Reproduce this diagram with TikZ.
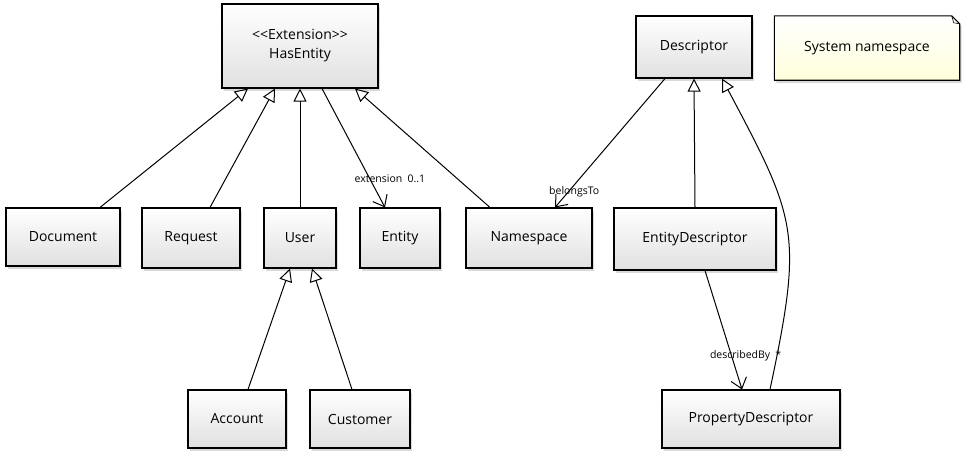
\documentclass[tikz,border=0pt]{standalone}
\usepackage{fontspec}
\setmainfont{Open Sans}
\usetikzlibrary{arrows.meta, backgrounds, positioning, shadows}

\tikzset{%
  cls/.style={draw, line width=1.1pt, rectangle, top color=white, bottom color=gray!24,
    drop shadow={shadow xshift=2pt, shadow yshift=-3pt, opacity=0.3},
    font=\fontsize{14}{19}\selectfont, align=center},
  isa/.style={line width=1pt, -{Triangle[open, length=13pt, width=13pt]}},
  assoc/.style={line width=1pt, -{Straight Barb[length=10pt, width=16pt]}},
  lbl/.style={font=\fontsize{10.5}{12}\selectfont, inner sep=1pt}
}

\begin{document}
\begin{tikzpicture}[x=1pt, y=1pt]
  \useasboundingbox (0,0) rectangle (964,-456);
  % classes
  \node[cls, minimum width=156pt, minimum height=84pt] (hasentity) at (300,-46)
    {<{}<Extension>{}>\\HasEntity};
  \node[cls, minimum width=116pt, minimum height=62pt] (descriptor) at (694,-47) {Descriptor};
  \node[font=\fontsize{14}{19}\selectfont, minimum width=185pt, minimum height=64pt] (note)
    at (867,-48) {System namespace};
  \node[cls, minimum width=114pt, minimum height=58pt] (document) at (63,-237) {Document};
  \node[cls, minimum width=98pt, minimum height=60pt] (request) at (191,-238) {Request};
  \node[cls, minimum width=72pt, minimum height=60pt] (user) at (300,-238) {User};
  \node[cls, minimum width=80pt, minimum height=60pt] (entity) at (400,-238) {Entity};
  \node[cls, minimum width=126pt, minimum height=60pt] (namespace) at (529,-238) {Namespace};
  \node[cls, minimum width=162pt, minimum height=62pt] (entitydesc) at (695,-239) {EntityDescriptor};
  \node[cls, minimum width=98pt, minimum height=58pt] (account) at (237,-419) {Account};
  \node[cls, minimum width=100pt, minimum height=58pt] (customer) at (360,-419) {Customer};
  \node[cls, minimum width=178pt, minimum height=58pt] (propdesc) at (751,-419) {PropertyDescriptor};

  % note with folded corner
  \begin{scope}[on background layer]
    \draw[line width=1.1pt, top color=white, bottom color=yellow!14,
      drop shadow={shadow xshift=2pt, shadow yshift=-3pt, opacity=0.3}]
      (note.north west) -- ([xshift=-8pt]note.north east) -- ([yshift=-8pt]note.north east)
      -- (note.south east) -- (note.south west) -- cycle;
    \draw[line width=0.6pt] ([xshift=-8pt]note.north east) -- ([xshift=-6pt, yshift=-7pt]note.north east)
      -- ([yshift=-8pt]note.north east);
  \end{scope}

  % generalisations
  \draw[isa] ([xshift=37pt]document.north) -- ([xshift=-52pt]hasentity.south);
  \draw[isa] ([xshift=19pt]request.north) -- ([xshift=-25pt]hasentity.south);
  \draw[isa] (user.north) -- (hasentity.south);
  \draw[isa] ([xshift=-39pt]namespace.north) -- ([xshift=55pt]hasentity.south);
  \draw[isa] (entitydesc.north) -- (descriptor.south);
  \draw[isa] ([xshift=19pt]propdesc.north) to[out=78, in=-62, looseness=1.3] ([xshift=28pt]descriptor.south);
  \draw[isa] ([xshift=11pt]account.north) -- ([xshift=-10pt]user.south);
  \draw[isa] ([xshift=-8pt]customer.north) -- ([xshift=12pt]user.south);

  % associations
  \draw[assoc] ([xshift=22pt]hasentity.south) -- ([xshift=-15pt]entity.north)
    node[lbl, pos=0.76, xshift=20pt] {extension\enspace 0..1};
  \draw[assoc] ([xshift=-29pt]descriptor.south) -- ([xshift=26pt]namespace.north)
    node[lbl, pos=0.88, xshift=6pt] {belongsTo};
  \draw[assoc] ([xshift=10pt]entitydesc.south) -- ([xshift=-9pt]propdesc.north)
    node[lbl, pos=0.72, xshift=14pt] {describedBy\enspace *};
\end{tikzpicture}
\end{document}
